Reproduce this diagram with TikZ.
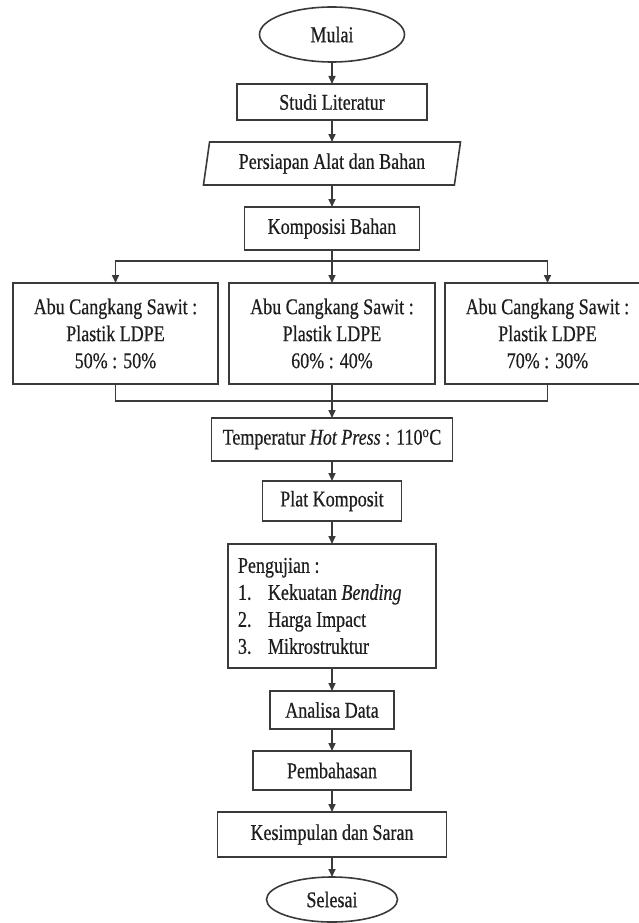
\documentclass[tikz,border=0pt]{standalone}
\usepackage{fontspec}
\setmainfont{Liberation Serif}[FakeStretch=0.8,FakeBold=0.5]
\usepackage{xcolor}
\usepackage{tikz}
\usetikzlibrary{positioning,arrows.meta,shapes.geometric,calc}
\definecolor{flowline}{HTML}{3A3A3A}
\definecolor{flowtext}{HTML}{1E1E1E}

\begin{document}
\begin{tikzpicture}[x=1pt,y=1pt,
  every node/.style={text=flowtext,font=\fontsize{22.5pt}{27pt}\selectfont},
  box/.style={draw=flowline,line width=1.6pt,rectangle,inner sep=2pt,outer sep=0pt,align=center},
  term/.style={draw=flowline,line width=1.6pt,ellipse,inner sep=0pt,outer sep=0pt},
  io/.style={draw=flowline,line width=1.6pt,trapezium,trapezium left angle=76,trapezium right angle=104,trapezium stretches body,inner sep=2pt,outer sep=0pt},
  arr/.style={-{Triangle[length=8pt,width=7pt]},flowline,line width=1.6pt},
  ln/.style={flowline,line width=1.6pt}
]
\useasboundingbox (0,0) rectangle (639,-923);

\node[term,minimum width=145pt,minimum height=55pt] (mulai) at (332,-34.5) {Mulai};
\node[box,minimum width=190pt,minimum height=36pt,below=22pt of mulai] (studi) {Studi Literatur};
\node[io,minimum width=257pt,minimum height=43pt,below=22pt of studi] (persiapan) {Persiapan Alat dan Bahan};
\node[box,minimum width=175pt,minimum height=43pt,below=22pt of persiapan] (komposisi) {Komposisi Bahan};

% tiga variasi komposisi
\node[box,minimum width=206pt,minimum height=101pt,below=33pt of komposisi] (rasio60) {Abu Cangkang Sawit :\\Plastik LDPE\\60\% : 40\%};
\node[box,minimum width=205pt,minimum height=101pt,left=11pt of rasio60] (rasio50) {Abu Cangkang Sawit :\\Plastik LDPE\\50\% : 50\%};
\node[box,minimum width=205pt,minimum height=101pt,right=10pt of rasio60] (rasio70) {Abu Cangkang Sawit :\\Plastik LDPE\\70\% : 30\%};

\node[box,minimum width=241pt,minimum height=43pt,below=34pt of rasio60] (panas) {Temperatur \textit{Hot Press} : 110\textsuperscript{o}C};
\node[box,minimum width=139pt,minimum height=40pt,below=20pt of panas] (plat) {Plat Komposit};
\node[box,inner sep=10pt,text width=188pt,minimum height=124pt,align=flush left,below=23pt of plat] (uji) {Pengujian :\\
  \makebox[30pt][l]{1.}Kekuatan \textit{Bending}\\
  \makebox[30pt][l]{2.}Harga Impact\\
  \makebox[30pt][l]{3.}Mikrostruktur};
\node[box,minimum width=124pt,minimum height=38pt,below=23pt of uji] (analisa) {Analisa Data};
\node[box,minimum width=158pt,minimum height=39pt,below=22pt of analisa] (bahas) {Pembahasan};
\node[box,minimum width=229pt,minimum height=45pt,below=22pt of bahas] (simpul) {Kesimpulan dan Saran};
\node[term,minimum width=131pt,minimum height=45pt,below=20pt of simpul] (selesai) {Selesai};

\coordinate (cabang) at ($(komposisi.south)+(0,-11)$);
\coordinate (gabung) at ($(rasio60.south)+(0,-17)$);

\draw[arr] (mulai) -- (studi);
\draw[arr] (studi) -- (persiapan);
\draw[arr] (persiapan) -- (komposisi);
\draw[ln] (komposisi.south) -- (cabang);
\draw[arr] (cabang) -| (rasio50.north);
\draw[arr] (cabang) -| (rasio70.north);
\draw[arr] (cabang) -- (rasio60.north);
\draw[ln] (rasio50.south) |- (gabung) -| (rasio70.south);
\draw[arr] (rasio60.south) -- (panas.north);
\draw[arr] (panas) -- (plat);
\draw[arr] (plat) -- (uji);
\draw[arr] (uji) -- (analisa);
\draw[arr] (analisa) -- (bahas);
\draw[arr] (bahas) -- (simpul);
\draw[arr] (simpul) -- (selesai);
\end{tikzpicture}
\end{document}
